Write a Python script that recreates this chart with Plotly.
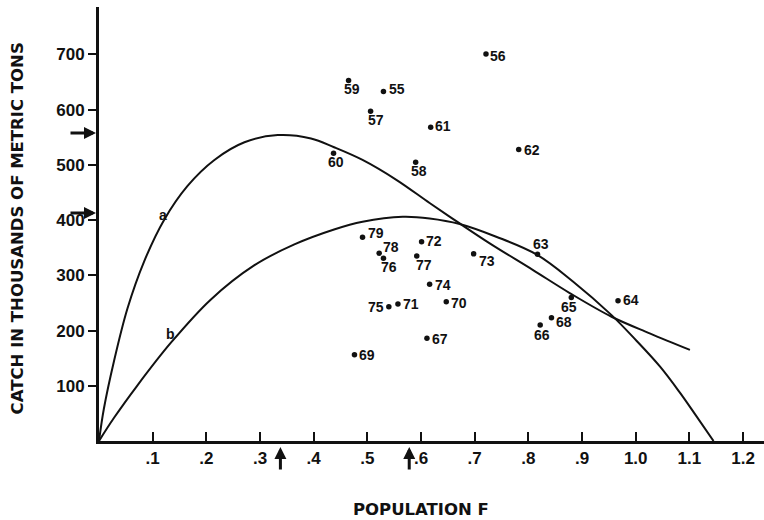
import plotly.graph_objects as go

# ---- data ----
years = ["56", "59", "55", "57", "61", "62", "60", "58", "79", "72", "78", "76", "77", "73",
         "74", "75", "71", "70", "67", "69", "63", "65", "64", "68", "66"]
pop_f = [0.721, 0.465, 0.530, 0.506, 0.618, 0.782, 0.437, 0.590, 0.491, 0.601, 0.522, 0.530,
         0.592, 0.698, 0.616, 0.540, 0.557, 0.647, 0.611, 0.476, 0.817, 0.880, 0.967, 0.843, 0.822]
catch = [701, 653, 633, 597, 568, 528, 521, 505, 369, 361, 340, 331, 335, 339,
         284, 243, 248, 252, 186, 156, 338, 260, 254, 223, 210]

curve_a_f = [0, 0.009, 0.028, 0.053, 0.084, 0.121, 0.165, 0.215, 0.271, 0.333, 0.395, 0.438,
             0.491, 0.554, 0.616, 0.672, 0.728, 0.808, 0.877, 0.955, 1.026, 1.101]
curve_a_c = [0, 58, 145, 240, 325, 400, 462, 509, 541, 554, 548, 532,
             509, 473, 431, 394, 358, 310, 268, 225, 195, 165]

curve_b_f = [0, 0.028, 0.071, 0.134, 0.208, 0.289, 0.364, 0.438, 0.491, 0.566, 0.616, 0.672,
             0.740, 0.815, 0.883, 0.955, 1.001, 1.045, 1.082, 1.113, 1.145]
curve_b_c = [0, 42, 100, 178, 256, 318, 356, 383, 397, 406, 403, 393,
             370, 338, 289, 228, 182, 135, 88, 45, 0]

msy_f = [0.338, 0.578]
msy_catch = [558, 413]

x_tickvals = [0.1, 0.2, 0.3, 0.4, 0.5, 0.6, 0.7, 0.8, 0.9, 1.0, 1.1, 1.2]
x_ticktext = [".1", ".2", ".3", ".4", ".5", ".6", ".7", ".8", ".9", "1.0", "1.1", "1.2"]
y_tickvals = [100, 200, 300, 400, 500, 600, 700]

# label offsets (pixels: right, down) for the year labels
label_offsets = {
    "56": (12, 2), "59": (3, 9), "55": (14, -2), "57": (5, 9), "61": (12, -1), "62": (13, 1),
    "60": (2, 9), "58": (3, 9), "79": (13, -4), "72": (12, -1), "78": (12, -6), "76": (6, 9),
    "77": (7, 9), "73": (13, 7), "74": (13, 1), "75": (-13, 0), "71": (13, 0), "70": (13, 1),
    "67": (13, 1), "69": (13, 0), "63": (3, -10), "65": (-2, 10), "64": (13, -1), "68": (13, 4),
    "66": (2, 10),
}

BLACK = "#111111"
TICKFONT = dict(family="Liberation Sans, Arial, sans-serif", size=17, color=BLACK, weight="bold")
LABFONT = dict(family="Liberation Sans, Arial, sans-serif", size=14, color=BLACK, weight="bold")
TITLEFONT = dict(family="DejaVu Sans, sans-serif", size=16.5, color=BLACK, weight="bold")

fig = go.Figure()
fig.add_trace(go.Scatter(x=curve_a_f, y=curve_a_c, mode="lines",
                         line=dict(color=BLACK, width=2, shape="spline", smoothing=1.0),
                         hoverinfo="skip", showlegend=False))
fig.add_trace(go.Scatter(x=curve_b_f, y=curve_b_c, mode="lines",
                         line=dict(color=BLACK, width=2, shape="spline", smoothing=1.0),
                         hoverinfo="skip", showlegend=False))
fig.add_trace(go.Scatter(x=pop_f, y=catch, mode="markers", marker=dict(color=BLACK, size=5.5),
                         text=years, showlegend=False))

annotations = []
for yr, f, c in zip(years, pop_f, catch):
    dx, dy = label_offsets[yr]
    annotations.append(dict(x=f, y=c, xref="x", yref="y", text=yr, showarrow=False,
                            xshift=dx, yshift=-dy, font=LABFONT, xanchor="center", yanchor="middle"))

# curve labels
annotations.append(dict(x=0.121, y=400, text="a", showarrow=False, xshift=-1, yshift=5, font=LABFONT))
annotations.append(dict(x=0.134, y=178, text="b", showarrow=False, xshift=0, yshift=9, font=LABFONT))

# arrows marking maxima
for c in msy_catch:
    annotations.append(dict(x=0, y=c, xref="x", yref="y", text="", showarrow=True, ax=-30, ay=0,
                            arrowhead=2, arrowsize=0.8, arrowwidth=3, arrowcolor=BLACK, standoff=3))
for f in msy_f:
    annotations.append(dict(x=f, y=0, xref="x", yref="y", text="", showarrow=True, ax=0, ay=30,
                            arrowhead=2, arrowsize=0.8, arrowwidth=3, arrowcolor=BLACK, standoff=6))

# axis titles
annotations.append(dict(x=-0.1226, y=0.491, xref="paper", yref="paper", text="CATCH IN THOUSANDS OF METRIC TONS",
                        textangle=-90, showarrow=False, font=TITLEFONT, xanchor="center", yanchor="middle"))
annotations.append(dict(x=0.484, y=-0.158, xref="paper", yref="paper", text="POPULATION F",
                        showarrow=False, font=TITLEFONT, xanchor="center", yanchor="middle"))

fig.update_layout(
    width=764, height=520,
    margin=dict(l=99, r=0, t=7, b=79, autoexpand=False),
    paper_bgcolor="white", plot_bgcolor="white",
    annotations=annotations,
    xaxis=dict(range=[0, 1.239], showgrid=False, zeroline=False, showline=True, linecolor=BLACK, linewidth=3,
               ticks="inside", ticklen=9, tickwidth=2, tickcolor=BLACK, automargin=False,
               tickvals=x_tickvals, ticktext=x_ticktext, tickfont=TICKFONT),
    yaxis=dict(range=[0, 786], showgrid=False, zeroline=False, showline=True, linecolor=BLACK, linewidth=3,
               ticks="outside", ticklen=8, tickwidth=2, tickcolor=BLACK, automargin=False,
               tickvals=y_tickvals, tickfont=TICKFONT),
)

fig.write_html("out.html", config={"displayModeBar": False},
               post_script="document.body.style.margin='0px';document.body.style.overflow='hidden';")
